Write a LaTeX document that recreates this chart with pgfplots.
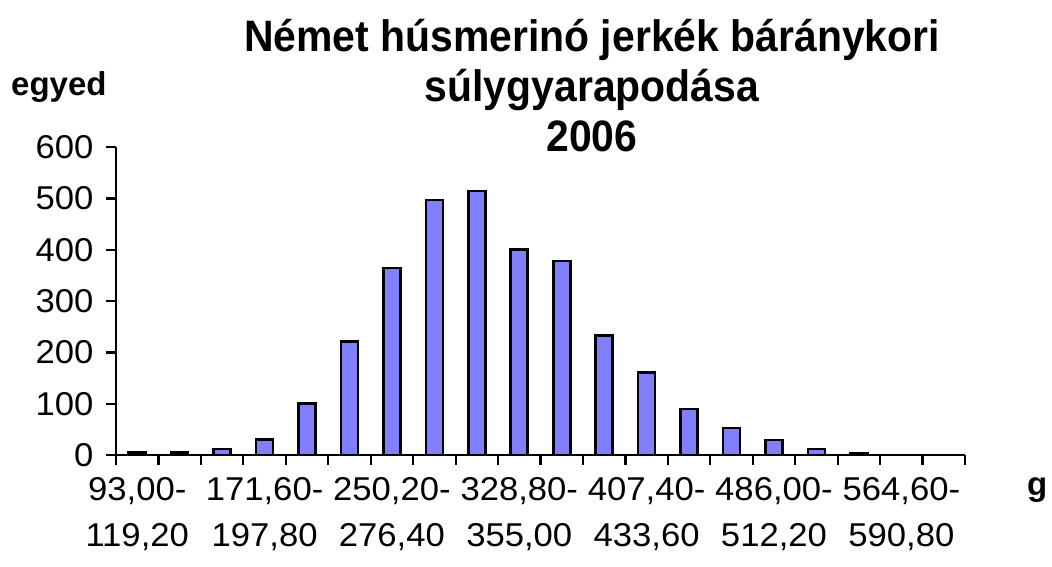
\documentclass[border=0pt]{standalone}
\usepackage{pgfplots}
\pgfplotsset{compat=1.18}
\usepackage{fontspec}
\setmainfont{Liberation Sans}
\newfontfamily\tickfont{Liberation Sans}[FakeStretch=1.05]
\newfontfamily\labfont{Liberation Sans}
\newfontfamily\titfont{Liberation Sans}[FakeStretch=0.93]
\definecolor{barblue}{RGB}{128,128,255}
\begin{document}
\begin{tikzpicture}[x=1pt,y=1pt]
\path[use as bounding box] (0,0) rectangle (1052,567);
\begin{axis}[
  at={(116pt,112pt)}, anchor=south west,
  scale only axis, width=849pt, height=307.7pt,
  xmin=-0.5, xmax=19.5, ymin=0, ymax=600,
  axis x line=bottom, axis y line=left,
  axis line style={-, line width=2.4pt, black},
  ytick={0,100,...,600},
  xtick={-0.5,0.5,...,19.5},
  xticklabels={{93,00-\\119,20},{},{},{171,60-\\197,80},{},{},{250,20-\\276,40},{},{},{328,80-\\355,00},{},{},{407,40-\\433,60},{},{},{486,00-\\512,20},{},{},{564,60-\\590,80},{},{}},
  tick align=outside,
  major tick length=10pt,
  every tick/.style={black, line width=2.2pt},
  /pgf/number format/assume math mode=true,
  yticklabel style={font=\tickfont\fontsize{33}{36}\selectfont, xshift=-9pt},
  xticklabel style={font=\tickfont\fontsize{33}{46}\selectfont, align=center, xshift=21.225pt, yshift=-9pt},
]
\addplot[ybar, bar width=17pt, fill=barblue, draw=black, line width=2.6pt]
  coordinates {(0,5) (1,5) (2,12) (3,30) (4,101) (5,221) (6,365) (7,497) (8,515) (9,401) (10,378) (11,233) (12,161) (13,90) (14,53) (15,29) (16,12) (17,4)};
\end{axis}
\node[font=\titfont\bfseries\fontsize{44}{50}\selectfont, anchor=base] at (592,515) {Német húsmerinó jerkék báránykori};
\node[font=\titfont\bfseries\fontsize{44}{50}\selectfont, anchor=base] at (592,465) {súlygyarapodása};
\node[font=\titfont\bfseries\fontsize{44}{50}\selectfont, anchor=base] at (592,415) {2006};
\node[font=\labfont\bfseries\fontsize{33}{36}\selectfont, anchor=base west, inner sep=0pt] at (11,471) {egyed};
\node[font=\labfont\bfseries\fontsize{33}{36}\selectfont, anchor=base west, inner sep=0pt] at (1027,71) {g};
\end{tikzpicture}
\end{document}
